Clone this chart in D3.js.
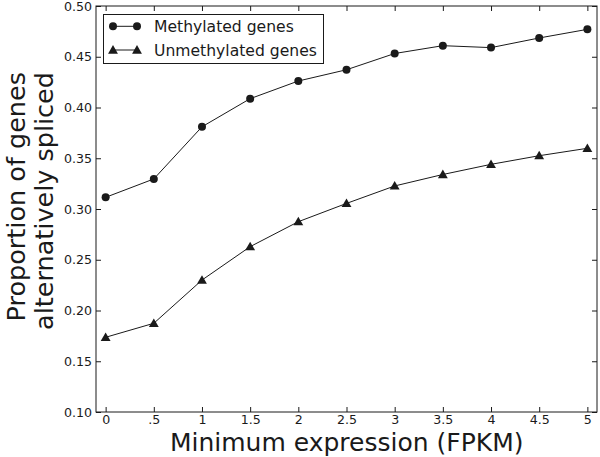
<!DOCTYPE html>
<html><head><meta charset="utf-8">
<script src="https://cdn.jsdelivr.net/npm/d3@7"></script>
<style>body{margin:0;background:#fff}svg{display:block;font-family:"DejaVu Sans",sans-serif}</style>
</head><body><svg id="c" width="600" height="457"></svg>
<script>
const xValues = [0, 0.5, 1, 1.5, 2, 2.5, 3, 3.5, 4, 4.5, 5];
const xTickLabels = ["0", ".5", "1", "1.5", "2", "2.5", "3", "3.5", "4", "4.5", "5"];
const methylated = [0.3115, 0.3296, 0.381, 0.4087, 0.4261, 0.4372, 0.4532, 0.4609, 0.459, 0.4685, 0.477];
const unmethylated = [0.1736, 0.1874, 0.230, 0.2629, 0.2875, 0.3055, 0.3227, 0.334, 0.344, 0.3525, 0.3598];
const yTicks = [0.10, 0.15, 0.20, 0.25, 0.30, 0.35, 0.40, 0.45, 0.50];
const seriesNames = ["Methylated genes", "Unmethylated genes"];

const svg = d3.select("#c");
const L = 96, R = 597, T = 6, B = 412;
const x = d3.scaleLinear().domain([-0.1, 5.1]).range([L, R]);
const y = d3.scaleLinear().domain([0.1, 0.5]).range([B, T]);
const ink = "#1a1a1a";

function styleAxis(g) {
  g.select(".domain").remove();
  g.selectAll("line").attr("stroke", ink);
  g.selectAll("text").attr("fill", ink).attr("font-size", 12.6).attr("font-family", "DejaVu Sans");
}
svg.append("g").attr("transform", `translate(0,${B})`)
  .call(d3.axisBottom(x).tickValues(xValues).tickFormat((d, i) => xTickLabels[i]).tickSizeInner(-5).tickSizeOuter(0).tickPadding(3.5))
  .call(styleAxis);
svg.append("g").attr("transform", `translate(0,${T})`)
  .call(d3.axisTop(x).tickValues(xValues).tickFormat("").tickSizeInner(-5).tickSizeOuter(0))
  .call(styleAxis);
svg.append("g").attr("transform", `translate(${L},0)`)
  .call(d3.axisLeft(y).tickValues(yTicks).tickFormat(d3.format(".2f")).tickSizeInner(-5).tickSizeOuter(0).tickPadding(4))
  .call(styleAxis);
svg.append("g").attr("transform", `translate(${R},0)`)
  .call(d3.axisRight(y).tickValues(yTicks).tickFormat("").tickSizeInner(-5).tickSizeOuter(0))
  .call(styleAxis);

svg.append("rect").attr("x", L).attr("y", T).attr("width", R - L).attr("height", B - T)
  .attr("fill", "none").attr("stroke", ink).attr("stroke-width", 1);

const line = d3.line().x((d, i) => x(xValues[i])).y(d => y(d));
const tri = d3.symbol().type(d3.symbolTriangle).size(42);

svg.append("path").datum(methylated).attr("d", line).attr("fill", "none").attr("stroke", ink).attr("stroke-width", 1);
svg.append("path").datum(unmethylated).attr("d", line).attr("fill", "none").attr("stroke", ink).attr("stroke-width", 1);
svg.selectAll(".m").data(methylated).enter().append("circle")
  .attr("cx", (d, i) => x(xValues[i])).attr("cy", d => y(d)).attr("r", 4).attr("fill", ink);
svg.selectAll(".u").data(unmethylated).enter().append("path")
  .attr("d", tri).attr("transform", (d, i) => `translate(${x(xValues[i])},${y(d) + 0.8})`).attr("fill", ink);

// legend
const lg = svg.append("g");
lg.append("rect").attr("x", 103.5).attr("y", 14.5).attr("width", 220).attr("height", 49)
  .attr("fill", "#fff").attr("stroke", ink).attr("stroke-width", 1);
const rows = [26.3, 50];
seriesNames.forEach((name, i) => {
  const yy = rows[i];
  lg.append("line").attr("x1", 113).attr("x2", 137).attr("y1", yy).attr("y2", yy).attr("stroke", ink);
  [113, 137].forEach(cx => {
    if (i === 0) lg.append("circle").attr("cx", cx).attr("cy", yy).attr("r", 4).attr("fill", ink);
    else lg.append("path").attr("d", tri).attr("transform", `translate(${cx},${yy + 0.8})`).attr("fill", ink);
  });
  lg.append("text").attr("x", 154).attr("y", yy + 5.6).attr("font-size", 15.6).attr("fill", ink).text(name);
});

// axis labels
svg.append("text").attr("x", 346.7).attr("y", 451).attr("text-anchor", "middle")
  .attr("font-size", 25).attr("fill", ink).text("Minimum expression (FPKM)");
const ylab = ["Proportion of genes", "alternatively spliced"];
const ybx = [25, 53];
ylab.forEach((t, i) => {
  svg.append("text").attr("transform", `translate(${ybx[i]},72) rotate(-90)`).attr("text-anchor", "end")
    .attr("font-size", 25.5).attr("fill", ink).text(t);
});
</script></body></html>
